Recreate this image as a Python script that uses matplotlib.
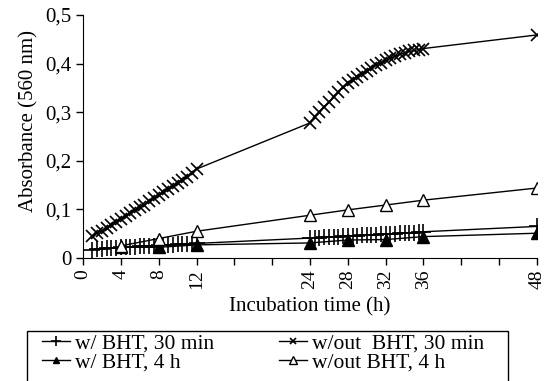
import numpy as np
import matplotlib
matplotlib.use("Agg")
import matplotlib.pyplot as plt
from matplotlib.patches import Rectangle

plt.rcParams['font.family'] = ['Liberation Serif', 'DejaVu Serif']

# time points
t_dense_a = [1, 1.5, 2, 2.5, 3, 3.5, 4, 4.5, 5, 5.5, 6, 6.5, 7, 7.5, 8, 8.5, 9, 9.5,
             10, 10.5, 11, 11.5, 12]
t_dense_b = [24, 24.5, 25, 25.5, 26, 26.5, 27, 27.5, 28, 28.5, 29, 29.5, 30, 30.5,
             31, 31.5, 32, 32.5, 33, 33.5, 34, 34.5, 35, 35.5, 36]
t_end = [48]
t_sparse = [4, 8, 12, 24, 28, 32, 36, 48]

# w/out BHT, 30 min (x markers)
wout30_a = [0.045, 0.052, 0.056, 0.062, 0.068, 0.074, 0.080, 0.086, 0.092, 0.098,
            0.104, 0.110, 0.117, 0.123, 0.129, 0.135, 0.142, 0.148, 0.154, 0.160,
            0.167, 0.175, 0.183]
wout30_b = [0.278, 0.290, 0.300, 0.310, 0.320, 0.332, 0.342, 0.351, 0.360, 0.367,
            0.373, 0.379, 0.385, 0.391, 0.397, 0.402, 0.407, 0.411, 0.415, 0.419,
            0.422, 0.425, 0.427, 0.429, 0.431]
wout30_end = [0.459]

# w/ BHT, 30 min (+ markers)
w30_a = [0.017, 0.018, 0.019, 0.020, 0.020, 0.021, 0.022, 0.022, 0.023, 0.023,
         0.024, 0.024, 0.025, 0.025, 0.026, 0.026, 0.027, 0.027, 0.028, 0.028,
         0.029, 0.029, 0.030]
w30_b = [0.041, 0.042, 0.042, 0.043, 0.043, 0.044, 0.044, 0.045, 0.045, 0.046,
         0.046, 0.047, 0.047, 0.048, 0.048, 0.049, 0.049, 0.050, 0.050, 0.051,
         0.051, 0.052, 0.052, 0.053, 0.054]
w30_end = [0.065]

# w/ BHT, 4 h (filled triangles)
w4 = [0.022, 0.022, 0.027, 0.031, 0.037, 0.038, 0.044, 0.051]
# w/out BHT, 4 h (open triangles)
wout4 = [0.025, 0.040, 0.055, 0.088, 0.099, 0.109, 0.119, 0.144]

xticks = [0, 4, 8, 12, 16, 20, 24, 28, 32, 36, 40, 44, 48]
xticklabels = ['0', '4', '8', '12', '', '', '24', '28', '32', '36', '', '', '48']
yticks = [0, 0.1, 0.2, 0.3, 0.4, 0.5]
yticklabels = ['0', '0,1', '0,2', '0,3', '0,4', '0,5']

W, H = 546, 381
fig = plt.figure(figsize=(W/100, H/100), dpi=100)
ax = fig.add_axes([83/W, 1 - 258/H, (537-83)/W, (258-15)/H])

lw = 1.0
t30 = t_dense_a + t_dense_b + t_end
h1, = ax.plot(t30, w30_a + w30_b + w30_end, color='black', lw=lw, marker='+',
              ms=11, mew=1.2, label='w/ BHT, 30 min')
h2, = ax.plot(t_sparse, w4, color='black', lw=lw, marker='^', ms=8,
              mfc='black', mec='black', label='w/ BHT, 4 h')
h3, = ax.plot(t30, wout30_a + wout30_b + wout30_end, color='black', lw=lw,
              marker='x', ms=8, mew=1.2, label='w/out  BHT, 30 min')
h4, = ax.plot(t_sparse, wout4, color='black', lw=lw, marker='^', ms=9,
              mfc='white', mec='black', mew=1.0, label='w/out BHT, 4 h')

ax.set_xlim(0, 48)
ax.set_ylim(0, 0.5)
ax.set_xticks(xticks)
ax.set_xticklabels(xticklabels, rotation=90, fontsize=14)
ax.set_yticks(yticks)
ax.set_yticklabels(yticklabels, fontsize=15)
ax.spines['top'].set_visible(False)
ax.spines['right'].set_visible(False)
ax.tick_params(direction='out', length=5, width=1, colors='black')
ax.tick_params(axis='x', pad=3)
ax.set_xlabel('Incubation time (h)', fontsize=15, labelpad=6)
ax.set_ylabel('Absorbance (560 nm)', fontsize=15)
ax.yaxis.set_label_coords(-0.097, (258 - 121) / 243)

leg = fig.legend(handles=[h1, h2, h3, h4], ncol=2, loc='upper left',
                 bbox_to_anchor=(42/W, 1 - 333/H), fontsize=15.5,
                 frameon=False, handlelength=1.3, handletextpad=0.25,
                 columnspacing=3.0, labelspacing=-0.05, borderpad=0,
                 borderaxespad=0, markerscale=0.6)

fig.add_artist(Rectangle((27/W, -0.05), (508-27)/W, (1 - 331/H) + 0.05,
                         transform=fig.transFigure, fill=False,
                         edgecolor='black', lw=1.0))

fig.savefig('out.png', dpi=100)
